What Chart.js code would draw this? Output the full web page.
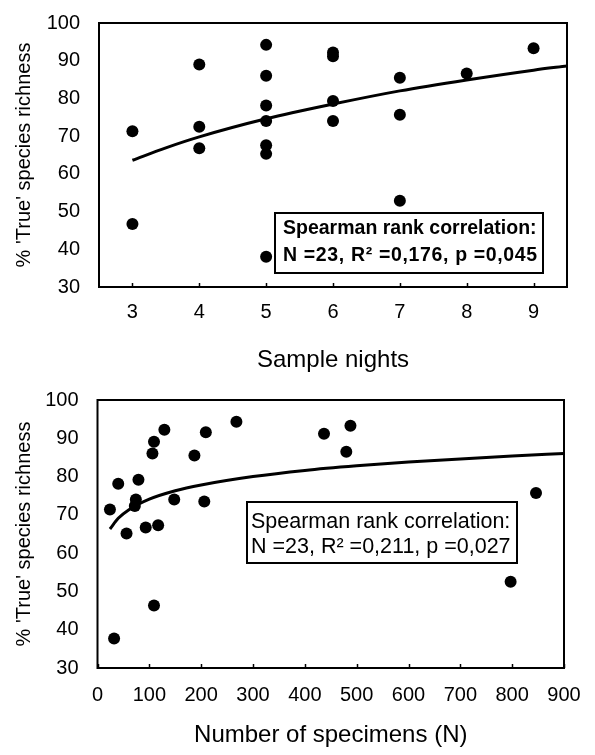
<!DOCTYPE html>
<html>
<head>
<meta charset="utf-8">
<title>'True' species richness</title>
<script src="https://cdn.jsdelivr.net/npm/chart.js@4"></script>
<style>
  body { margin: 0; background: #fff; }
  canvas { position: absolute; left: 0; }
  #nightsChart { top: 0; }
  #specimensChart { top: 375px; }
</style>
</head>
<body>
<canvas id="nightsChart" width="595" height="375"></canvas>
<canvas id="specimensChart" width="595" height="380"></canvas>
<script>
// Values

const richnessTicks = [30, 40, 50, 60, 70, 80, 90, 100];
const nightTicks = [3, 4, 5, 6, 7, 8, 9];
const specimenTicks = [0, 100, 200, 300, 400, 500, 600, 700, 800, 900];

// top panel: sample nights
const nightsX = [3, 3, 4, 4, 4, 5, 5, 5, 5, 5, 5, 5, 6, 6, 6, 6, 7, 7, 7, 8, 9];
const nightsY = [71.3, 46.7, 89.0, 72.5, 66.8, 94.2, 86.0, 78.1, 74.0, 67.6, 65.3, 38.0,
                 92.2, 91.2, 79.3, 74.0, 85.5, 75.7, 52.9, 86.6, 93.3];
const nightsFitX = [3, 3.5, 4, 5, 6, 7, 8, 9, 9.5];
const nightsFitY = [63.6, 66.9, 69.8, 74.6, 78.5, 82.0, 84.9, 87.5, 88.6];
const nightsStats = ["Spearman rank correlation:", "N =23, R\u00B2 =0,176, p =0,045"];

// bottom panel: number of specimens
const specimensX = [24, 40, 56, 32, 79, 74, 72, 93, 106, 109, 117, 109, 129, 148, 187,
                    209, 206, 268, 437, 480, 488, 846, 797];
const specimensY = [71.4, 78.1, 65.1, 37.7, 79.2, 74.0, 72.3, 66.7, 86.0, 89.1, 67.3, 46.3,
                    92.2, 74.0, 85.5, 91.6, 73.5, 94.3, 91.2, 86.5, 93.3, 75.7, 52.5];
const specimensFitX = [24, 40, 60, 100, 150, 200, 300, 400, 500, 600, 700, 800, 900];
const specimensFitY = [66.3, 69.1, 71.3, 74.1, 76.3, 77.8, 80.0, 81.6, 82.8, 83.8, 84.6, 85.4, 86.0];
const specimensStats = ["Spearman rank correlation:", "N =23, R\u00B2 =0,211, p =0,027"];

const yTitle = "% 'True' species richness";

Chart.defaults.font.family = "'Liberation Sans', Arial, sans-serif";
Chart.defaults.color = "#000";

const toPoints = (xs, ys) => xs.map((x, i) => ({ x: x, y: ys[i] }));

// frame round the plot, small inward ticks and the statistics box
const framePlugin = {
    id: "frame",
    afterDatasetsDraw(chart, args, opts) {
        const ctx = chart.ctx;
        const a = chart.chartArea;
        const x = chart.scales.x;
        ctx.save();
        ctx.strokeStyle = "#000";
        ctx.lineWidth = 2;
        ctx.strokeRect(a.left, a.top, a.width, a.height);

        ctx.lineWidth = 1.5;
        x.ticks.forEach((t) => {
            const px = Math.round(x.getPixelForValue(t.value)) + 0.5;
            ctx.beginPath();
            ctx.moveTo(px, a.bottom);
            ctx.lineTo(px, a.bottom - 4);
            ctx.stroke();
        });

        const b = opts.box;
        ctx.fillStyle = "#fff";
        ctx.fillRect(b.x, b.y, b.w, b.h);
        ctx.lineWidth = 2;
        ctx.strokeRect(b.x, b.y, b.w, b.h);
        ctx.fillStyle = "#000";
        ctx.font = opts.font;
        ctx.textBaseline = "middle";
        opts.lines.forEach((line, i) => {
            ctx.letterSpacing = (opts.spacing[i] || 0) + "px";
            ctx.fillText(line, b.textX, b.lineY[i]);
        });
        ctx.restore();
    }
};

function makeChart(id, cfg) {
    const ctx = document.getElementById(id).getContext("2d");
    return new Chart(ctx, {
        type: "scatter",
        data: {
            datasets: [{
                data: cfg.points,
                backgroundColor: "#000",
                borderColor: "#000",
                pointRadius: 6,
                pointBorderWidth: 0
            }, {
                data: cfg.fit,
                showLine: true,
                borderColor: "#000",
                borderWidth: 3,
                pointRadius: 0,
                tension: 0.4,
                cubicInterpolationMode: "monotone"
            }]
        },
        options: {
            responsive: false,
            animation: false,
            events: [],
            layout: { padding: cfg.padding },
            plugins: {
                legend: { display: false },
                tooltip: { enabled: false },
                frame: cfg.frame
            },
            scales: {
                x: {
                    type: "linear",
                    min: cfg.xMin,
                    max: cfg.xMax,
                    grid: { display: false },
                    border: { display: false },
                    afterBuildTicks: (s) => { s.ticks = cfg.xTicks.map((v) => ({ value: v })); },
                    afterFit: (s) => { s.height = cfg.xHeight; },
                    ticks: { font: { size: 20 }, padding: cfg.xTickPad, maxRotation: 0, autoSkip: false },
                    title: {
                        display: true,
                        text: cfg.xTitle,
                        font: { size: 24 },
                        padding: { top: 0, bottom: cfg.xTitlePad }
                    }
                },
                y: {
                    type: "linear",
                    min: 30,
                    max: 100,
                    grid: { display: false },
                    border: { display: false },
                    afterBuildTicks: (s) => { s.ticks = richnessTicks.map((v) => ({ value: v })); },
                    afterFit: (s) => { s.width = cfg.yWidth; },
                    ticks: { font: { size: 20 }, padding: 11 },
                    title: {
                        display: true,
                        text: yTitle,
                        font: { size: 20 },
                        padding: { top: 12, bottom: 0 }
                    }
                }
            }
        },
        plugins: [framePlugin]
    });
}

makeChart("nightsChart", {
    points: toPoints(nightsX, nightsY),
    fit: toPoints(nightsFitX, nightsFitY),
    xMin: 2.5,
    xMax: 9.5,
    xTicks: nightTicks,
    xTitle: "Sample nights",
    xHeight: 88,
    xTickPad: 5,
    xTitlePad: 0,
    yWidth: 99,
    padding: { left: 0, top: 16, right: 28, bottom: 0 },
    frame: {
        box: { x: 275, y: 213, w: 268, h: 60, textX: 283, lineY: [229, 256] },
        font: "bold 19.5px 'Liberation Sans', Arial, sans-serif",
        lines: nightsStats,
        spacing: [0, 0.65]
    }
});

makeChart("specimensChart", {
    points: toPoints(specimensX, specimensY),
    fit: toPoints(specimensFitX, specimensFitY),
    xMin: 0,
    xMax: 900,
    xTicks: specimenTicks,
    xTitle: "Number of specimens (N)",
    xHeight: 87,
    xTickPad: 7.5,
    xTitlePad: 5,
    yWidth: 97.5,
    padding: { left: 0, top: 25, right: 31, bottom: 0 },
    frame: {
        box: { x: 247, y: 127, w: 270, h: 61, textX: 251, lineY: [147, 172] },
        font: "21.5px 'Liberation Sans', Arial, sans-serif",
        lines: specimensStats,
        spacing: [0, 0]
    }
});
</script>
</body>
</html>
